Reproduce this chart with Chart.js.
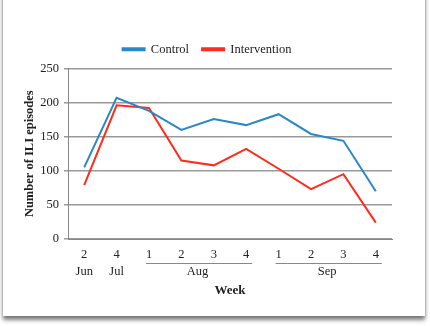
<!DOCTYPE html>
<html>
<head>
<meta charset="utf-8">
<script src="https://cdn.jsdelivr.net/npm/chart.js@4"></script>
<style>
  html, body { margin: 0; padding: 0; background: #fff; }
  body { width: 430px; height: 326px; position: relative; overflow: hidden; }
  .card {
    position: absolute; left: 3px; top: -10px; width: 422px; height: 326px;
    background: #fff;
    box-shadow: 0 4px 4px rgba(0,0,0,0.5), 0 0 3px rgba(0,0,0,0.2);
  }
  #wrap { position: absolute; left: 0; top: 0; width: 430px; height: 326px; }
</style>
</head>
<body>
<div class="card"></div>
<div id="wrap"><canvas id="chart" width="430" height="326"></canvas></div>
<script>
const weeks = ["2", "4", "1", "2", "3", "4", "1", "2", "3", "4"];
const control = [105, 207, 188, 160, 176, 167, 183, 154, 144, 70];
const intervention = [79, 196, 192, 115, 108, 132, 103, 73, 95, 24];
// month label, first week index, last week index, underline?
const months = [
  ["Jun", 0, 0, false],
  ["Jul", 1, 1, false],
  ["Aug", 2, 5, true],
  ["Sep", 6, 9, true]
];

const serif = "'Liberation Serif', 'Times New Roman', serif";
const blue = "#2a88c8";
const red = "#ff2b1c";

// a bit more room under the legend
const legendGap = {
  id: "legendGap",
  afterInit(c) {
    const fit = c.legend.fit;
    c.legend.fit = function () {
      fit.call(this);
      this.height += 3;
    };
  }
};

const monthLabels = {
  id: "monthLabels",
  afterDraw(c) {
    const x = c.scales.x;
    const ctx = c.ctx;
    ctx.save();
    ctx.fillStyle = "#222";
    ctx.strokeStyle = "#888";
    ctx.lineWidth = 1;
    ctx.font = "12.5px " + serif;
    ctx.textAlign = "center";
    ctx.textBaseline = "middle";
    months.forEach(([name, a, b, line]) => {
      const xa = x.getPixelForValue(a);
      const xb = x.getPixelForValue(b);
      if (line) {
        ctx.beginPath();
        ctx.moveTo(xa - 3, 263.5);
        ctx.lineTo(xb + 6, 263.5);
        ctx.stroke();
      }
      ctx.fillText(name, (xa + xb) / 2, 272);
    });
    ctx.font = "bold 13px " + serif;
    ctx.fillText("Week", (c.chartArea.left + c.chartArea.right) / 2, 291);
    ctx.restore();
  }
};

new Chart(document.getElementById("chart"), {
  type: "line",
  data: {
    labels: weeks,
    datasets: [
      { label: "Control", data: control, borderColor: blue, backgroundColor: blue, borderWidth: 2, pointRadius: 0, tension: 0 },
      { label: "Intervention", data: intervention, borderColor: red, backgroundColor: red, borderWidth: 2, pointRadius: 0, tension: 0 }
    ]
  },
  options: {
    responsive: false,
    animation: false,
    layout: { padding: { left: 22, right: 38, top: 30, bottom: 0 } },
    plugins: {
      legend: {
        labels: {
          font: { family: serif, size: 12.5 },
          color: "#222",
          boxWidth: 22,
          boxHeight: 2,
          padding: 13
        }
      },
      tooltip: { enabled: false }
    },
    scales: {
      x: {
        offset: true,
        grid: { display: false, drawTicks: false },
        border: { color: "#888", width: 1 },
        ticks: { font: { family: serif, size: 12.5 }, color: "#222", padding: 8, maxRotation: 0 },
        afterFit(s) { s.height = 87; }
      },
      y: {
        min: 0,
        max: 250,
        ticks: { stepSize: 50, font: { family: serif, size: 12.5 }, color: "#222", padding: 5 },
        grid: { color: "#999", lineWidth: 1.5, tickLength: 4 },
        border: { color: "#888", width: 1 },
        title: { display: true, text: "Number of ILI episodes", font: { family: serif, size: 12.5, weight: "bold" }, color: "#222", padding: 0 },
        afterFit(s) { s.width = 46; }
      }
    }
  },
  plugins: [legendGap, monthLabels]
});
</script>
</body>
</html>
